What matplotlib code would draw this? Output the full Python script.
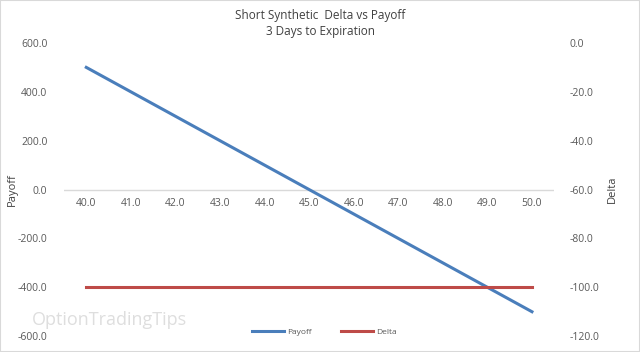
import numpy as np
import matplotlib.pyplot as plt
from matplotlib.patches import Rectangle

# data
strikes = [40.0, 41.0, 42.0, 43.0, 44.0, 45.0, 46.0, 47.0, 48.0, 49.0, 50.0]
payoff = [500, 400, 300, 200, 100, 0, -100, -200, -300, -400, -500]
delta = [-100, -100, -100, -100, -100, -100, -100, -100, -100, -100, -100]

payoff_ticks = [-600, -400, -200, 0, 200, 400, 600]
delta_ticks = [-120, -100, -80, -60, -40, -20, 0]

BLUE = "#4A7EBB"
RED = "#BE4B48"
TXT = "#595959"

plt.rcParams['font.family'] = ['Open Sans', 'DejaVu Sans']

fig = plt.figure(figsize=(6.4, 3.52), dpi=100)
ax = fig.add_axes([0.1, 0.045, 0.766, 0.833])
ax2 = ax.twinx()

ax.plot(strikes, payoff, color=BLUE, lw=2.2, label="Payoff", zorder=3)
ax2.plot(strikes, delta, color=RED, lw=2.2, label="Delta", zorder=3)

ax.set_xlim(39.5, 50.5)
ax.set_ylim(-600, 600)
ax2.set_ylim(-120, 0)

ax.set_yticks(payoff_ticks)
ax.set_yticklabels([f"{v:.1f}" for v in payoff_ticks])
ax2.set_yticks(delta_ticks)
ax2.set_yticklabels([f"{v:.1f}" for v in delta_ticks])
ax.set_xticks([])

# category labels sit under the zero line
for s in strikes:
    ax.text(s, -35, f"{s:.1f}", ha="center", va="top", fontsize=7.5, color=TXT)
ax.axhline(0, color="#D9D9D9", lw=1, zorder=1)

for a in (ax, ax2):
    for sp in a.spines.values():
        sp.set_visible(False)
    a.tick_params(length=0, labelsize=7.5, colors=TXT)
ax.tick_params(axis="y", pad=12)
ax2.tick_params(axis="y", pad=11)

ax.set_ylabel("Payoff", fontsize=8, color="#404040")
ax2.set_ylabel("Delta", fontsize=8, color="#404040")
ax.yaxis.set_label_coords(-0.094, 0.5)
ax2.yaxis.set_label_coords(1.108, 0.5)

fig.suptitle("Short Synthetic  Delta vs Payoff\n3 Days to Expiration",
             y=0.975, fontsize=8.5, color="#404040", linespacing=1.3)

h1, l1 = ax.get_legend_handles_labels()
h2, l2 = ax2.get_legend_handles_labels()
fig.legend(h1 + h2, l1 + l2, loc="center", bbox_to_anchor=(0.507, 0.058),
           ncol=2, frameon=False, fontsize=6, labelcolor=TXT,
           handlelength=3.8, columnspacing=3.5, handletextpad=0.4)

# faint watermark in the corner
fig.text(0.05, 0.092, "OptionTradingTips", fontsize=13, color="#D0D0D0",
         alpha=0.7, ha="left", va="center", zorder=0)

fig.patches.append(Rectangle((0, 0), 1, 1, transform=fig.transFigure,
                             fill=False, edgecolor="#D9D9D9", lw=1.5))

fig.savefig("out.png", dpi=100, facecolor="white")
